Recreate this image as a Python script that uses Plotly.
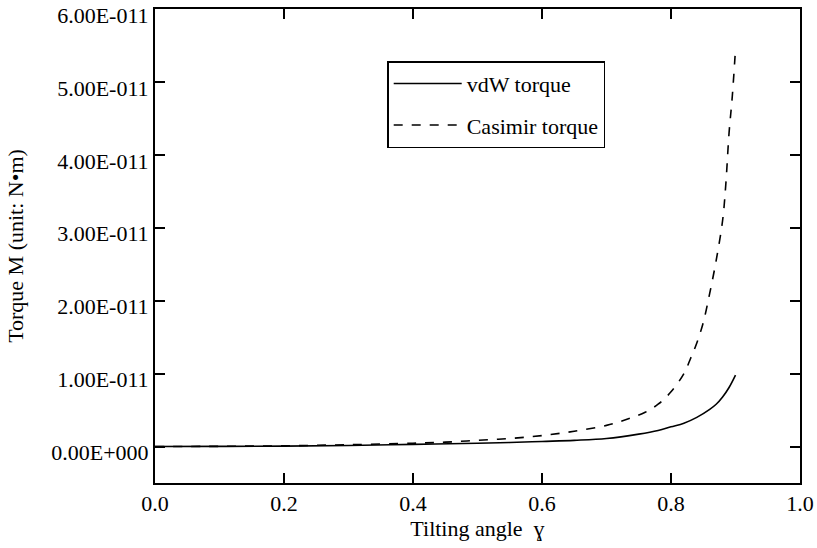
import plotly.graph_objects as go

# Tilting angle (x) and torques (unit 1e-11 N·m)
angle_vdw = [0.0, 0.1, 0.2, 0.3, 0.4, 0.5, 0.55, 0.6, 0.65, 0.7, 0.75, 0.78, 0.8, 0.82, 0.84, 0.86, 0.87, 0.88, 0.89, 0.9]
torque_vdw = [0.0, 0.002, 0.006, 0.015, 0.03, 0.045, 0.055, 0.07, 0.085, 0.11, 0.17, 0.22, 0.27, 0.32, 0.40, 0.51, 0.58, 0.68, 0.81, 0.98]

angle_cas = [0.0, 0.1, 0.2, 0.3, 0.4, 0.45, 0.5, 0.55, 0.6, 0.65, 0.7, 0.72, 0.74, 0.76, 0.78, 0.8, 0.82, 0.83, 0.84, 0.85, 0.86, 0.87, 0.88, 0.885, 0.89, 0.895, 0.9]
torque_cas = [0.0, 0.003, 0.01, 0.025, 0.045, 0.06, 0.085, 0.11, 0.15, 0.21, 0.29, 0.34, 0.40, 0.47, 0.58, 0.75, 1.0, 1.2, 1.42, 1.7, 2.1, 2.55, 3.1, 3.6, 4.3, 4.8, 5.45]

scale = 1e-11
y_tickvals = [0, 1e-11, 2e-11, 3e-11, 4e-11, 5e-11, 6e-11]
y_ticktext = ["0.00E+000", "1.00E-011", "2.00E-011", "3.00E-011", "4.00E-011", "5.00E-011", "6.00E-011"]
x_tickvals = [0.0, 0.2, 0.4, 0.6, 0.8, 1.0]
x_ticktext = ["0.0", "0.2", "0.4", "0.6", "0.8", "1.0"]

FONT = "Liberation Serif"

fig = go.Figure()
fig.add_trace(go.Scatter(x=angle_vdw, y=[v * scale for v in torque_vdw], mode="lines",
                         name="vdW torque", legendgroup="a",
                         line=dict(color="black", width=1.6, dash="solid", shape="spline")))
fig.add_trace(go.Scatter(x=angle_cas, y=[v * scale for v in torque_cas], mode="lines",
                         name="Casimir torque", legendgroup="b",
                         line=dict(color="black", width=1.6, dash="dash", shape="spline")))

axis_common = dict(showgrid=False, zeroline=False, showline=True, linecolor="black", linewidth=2,
                   mirror="allticks", ticks="inside", ticklen=10, tickwidth=2, tickcolor="black",
                   automargin=False, ticklabeloverflow="allow",
                   tickfont=dict(family=FONT, size=22, color="black"))

fig.update_xaxes(range=[0, 1.0], tickvals=x_tickvals, ticktext=x_ticktext,
                 title=dict(text="Tilting angle  \u0263", font=dict(family=FONT, size=22, color="black"), standoff=2),
                 **axis_common)
fig.update_yaxes(range=[-0.5e-11, 6.0e-11], tickvals=y_tickvals, ticktext=y_ticktext,
                 ticklabelshift=6,
                 title=dict(text="Torque M (unit: N\u2022m)", font=dict(family=FONT, size=22, color="black"), standoff=22),
                 **axis_common)

fig.update_layout(
    width=817, height=548,
    margin=dict(l=155, r=17, t=9, b=65),
    paper_bgcolor="white", plot_bgcolor="white",
    font=dict(family=FONT, size=22, color="black"),
    legend=dict(x=0.36, y=0.89, xanchor="left", yanchor="top",
                bordercolor="black", borderwidth=1.5, bgcolor="white",
                font=dict(family=FONT, size=22, color="black"),
                itemwidth=68, tracegroupgap=10, traceorder="grouped", entrywidth=180),
    showlegend=True,
)

fig.write_html("out.html", config={"displayModeBar": False},
               post_script="document.body.style.margin='0';")
